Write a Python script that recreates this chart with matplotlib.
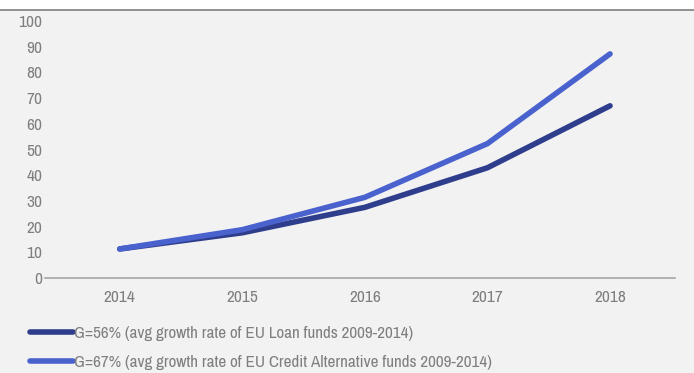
import matplotlib
matplotlib.use("Agg")
import matplotlib.pyplot as plt
from matplotlib.lines import Line2D
from matplotlib.patches import Rectangle
from matplotlib import font_manager

years = [2014, 2015, 2016, 2017, 2018]
loan_funds = [11.3, 17.6, 27.5, 42.9, 67.0]
credit_alt_funds = [11.3, 18.8, 31.4, 52.3, 87.2]
labels = ['G=56% (avg growth rate of EU Loan funds 2009-2014)',
          'G=67% (avg growth rate of EU Credit Alternative funds 2009-2014)']

# narrow font like the original (Arial Narrow); take the first one installed
names = {f.name for f in font_manager.fontManager.ttflist}
fam = 'DejaVu Sans'
for cand in ['Liberation Sans Narrow', 'Arial Narrow', 'Archivo Narrow', 'PT Sans Narrow',
             'Roboto Condensed', 'Pragati Narrow', 'Open Sans Condensed', 'Liberation Sans']:
    if cand in names:
        fam = cand
        break
plt.rcParams['font.family'] = [fam, 'DejaVu Sans']

grey = '#7f7f7f'
bg = '#f2f2f2'

fig = plt.figure(figsize=(6.94, 3.73), dpi=100, facecolor=bg)
top = 1 - 10 / 373
fig.add_artist(Rectangle((0, top), 1, 1 - top, transform=fig.transFigure,
                         facecolor='white', edgecolor='none'))
fig.add_artist(Line2D([0, 1], [top, top], color=grey, lw=1.2))

ax = fig.add_axes([45 / 694, 95 / 373, 630 / 694, 257 / 373])
ax.set_facecolor(bg)

l1, = ax.plot(years, loan_funds, color='#2e3d8c', lw=4, solid_capstyle='round',
              solid_joinstyle='round', label=labels[0])
l2, = ax.plot(years, credit_alt_funds, color='#4a62cd', lw=4, solid_capstyle='round',
              solid_joinstyle='round', label=labels[1])

ax.set_xlim(2013.39, 2018.53)
ax.set_ylim(0, 100)
ax.set_yticks(range(0, 101, 10))
ax.set_xticks(years)
for s in ['top', 'right', 'left']:
    ax.spines[s].set_visible(False)
ax.spines['bottom'].set_color('#a6a6a6')
ax.spines['bottom'].set_linewidth(1.2)
ax.tick_params(axis='both', length=0, labelcolor=grey, labelsize=12.5)
ax.tick_params(axis='y', pad=2)
ax.tick_params(axis='x', pad=9)

fig.legend(handles=[l1, l2], loc='upper left', bbox_to_anchor=(30 / 694, 1 - 326 / 373),
           frameon=False, fontsize=12.3, labelcolor=grey, handlelength=2.5,
           handletextpad=0.1, labelspacing=0.82, borderaxespad=0, borderpad=0)

fig.savefig('out.png', dpi=100, facecolor=bg)
